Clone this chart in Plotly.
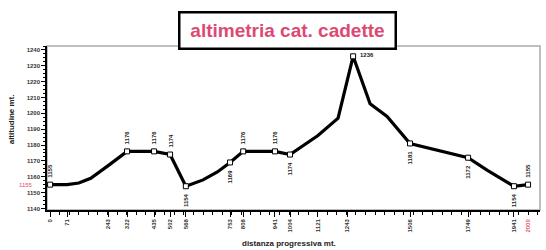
import plotly.graph_objects as go

# profile (distance m, altitude m)
dist = [0, 71, 120, 170, 243, 322, 435, 502, 568, 640, 700, 753, 808, 941, 1004, 1121, 1205, 1268, 1339, 1410, 1506, 1749, 1830, 1883, 1941, 2000]
alt = [1155, 1155, 1156, 1159, 1167, 1176, 1176, 1174, 1154, 1158, 1163, 1169, 1176, 1176, 1174, 1186, 1197, 1236, 1206, 1198, 1181, 1172, 1164, 1159, 1154, 1155]

# waypoints with markers
wp_dist = [0, 322, 435, 502, 568, 753, 808, 941, 1004, 1268, 1506, 1749, 1941, 2000]
wp_alt = [1155, 1176, 1176, 1174, 1154, 1169, 1176, 1176, 1174, 1236, 1181, 1172, 1154, 1155]

# distance tick labels
xtick_vals = [0, 71, 243, 322, 435, 502, 568, 753, 808, 941, 1004, 1121, 1243, 1506, 1749, 1941]
ytick_vals = [1140, 1150, 1160, 1170, 1180, 1190, 1200, 1210, 1220, 1230, 1240]

title_text = "altimetria cat. cadette"
y_title = "altitudine mt."
x_title = "distanza progressiva mt."

fig = go.Figure()
fig.add_trace(go.Scatter(x=dist, y=alt, mode="lines",
                         line=dict(color="black", width=3.2), hoverinfo="skip"))
fig.add_trace(go.Scatter(x=wp_dist, y=wp_alt, mode="markers",
                         marker=dict(symbol="square", size=5, color="white",
                                     line=dict(color="black", width=1)),
                         hoverinfo="skip"))

tickfont = dict(family="Liberation Sans", size=6, color="#333", weight="bold")

fig.update_layout(
    width=546, height=250,
    margin=dict(l=47, r=6, t=46, b=40),
    paper_bgcolor="white", plot_bgcolor="white",
    showlegend=False,
    xaxis=dict(range=[-13, 2050], tickmode="array", tickvals=xtick_vals,
               ticktext=[str(v) for v in xtick_vals], tickangle=-90,
               tickfont=tickfont, showgrid=False, zeroline=False, automargin=False,
               showline=True, linecolor="black", linewidth=1.5,
               ticks="outside", ticklen=5, tickcolor="black",
               minor=dict(dtick=40, ticks="outside", ticklen=3, tickcolor="black")),
    yaxis=dict(range=[1139, 1242.5], tickmode="array", tickvals=ytick_vals,
               ticktext=[str(v) for v in ytick_vals], tickfont=tickfont, automargin=False,
               showgrid=False, zeroline=False, showline=True, linecolor="black",
               linewidth=1.5, ticks="outside", ticklen=4, tickcolor="black",
               minor=dict(dtick=2.5, ticks="outside", ticklen=2, tickcolor="black")),
)

# gray frame around plot area
fig.add_shape(type="rect", xref="paper", yref="paper", x0=0, x1=1, y0=0, y1=1,
              line=dict(color="#aaa", width=1.5), layer="below")

# title box
fig.add_annotation(text=title_text, xref="paper", yref="paper", x=0.488, y=1.0915,
                   yanchor="middle", xanchor="center",
                   showarrow=False,
                   font=dict(family="Liberation Sans", size=19, color="#dc4a74", weight="bold"),
                   bgcolor="white", bordercolor="black", borderwidth=2.5,
                   width=212, height=32, borderpad=1)

# axis titles
fig.add_annotation(text=y_title, xref="paper", yref="paper", x=-0.072, y=0.55,
                   xanchor="center", yanchor="middle",
                   textangle=-90, showarrow=False,
                   font=dict(family="Liberation Sans", size=8, color="#222", weight="bold"))
fig.add_annotation(text=x_title, xref="paper", yref="paper", x=0.49, y=-0.207,
                   xanchor="center", yanchor="middle",
                   showarrow=False,
                   font=dict(family="Liberation Sans", size=8, color="#222", weight="bold"))

# red start altitude / end distance
fig.add_annotation(text=str(alt[0]), xref="paper", yref="y", x=-0.06, y=alt[0],
                   showarrow=False, font=dict(family="Liberation Sans", size=6, color="#e0506a"))
fig.add_annotation(text=str(dist[-1]), xref="x", yref="paper", x=dist[-1], y=-0.04,
                   yanchor="top", textangle=-90, showarrow=False,
                   font=dict(family="Liberation Sans", size=6, color="#e0506a", weight="bold"))

# waypoint altitude labels (rotated)
above = [True, True, True, True, False, False, True, True, False, None, False, False, False, True]
for d, a, ab in zip(wp_dist, wp_alt, above):
    if ab is None:
        fig.add_annotation(text=str(a), x=d, y=a, xanchor="left", xshift=5, yshift=1,
                           showarrow=False,
                           font=dict(family="Liberation Sans", size=6, color="#222", weight="bold"))
        continue
    fig.add_annotation(text=str(a), x=d, y=a, textangle=-90, showarrow=False,
                       yanchor="bottom" if ab else "top", yshift=5 if ab else -5,
                       font=dict(family="Liberation Sans", size=6, color="#222", weight="bold"))

fig.write_html("out.html", config={"displayModeBar": False},
               post_script="document.body.style.margin='0';")
